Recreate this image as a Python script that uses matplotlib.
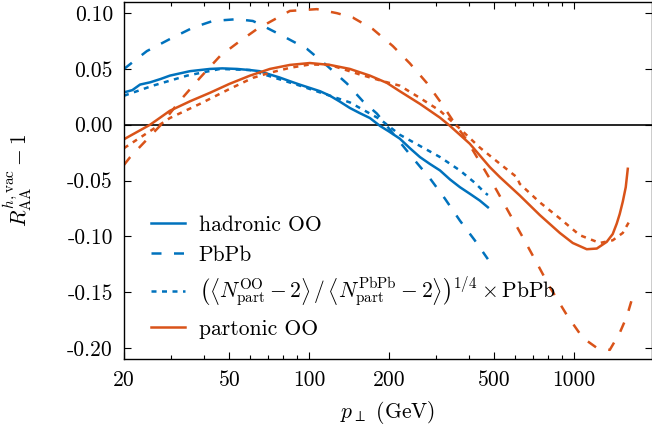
import matplotlib
matplotlib.use("Agg")
import matplotlib.pyplot as plt
from matplotlib.ticker import FixedLocator, FixedFormatter, NullFormatter

# hadronic OO (solid blue)
had_oo_pt = [20, 21.5, 23, 25.1, 27.5, 29.8, 32.5, 35.5, 38.7, 42.2, 47, 53.4, 59.8,
             65, 71.1, 77, 84.6, 92, 100.6, 110, 119.8, 130, 142.5, 155, 169.6, 185,
             200, 220, 240, 262, 285, 312, 340, 371, 405, 441, 473]
had_oo_val = [0.029, 0.031, 0.036, 0.038, 0.041, 0.044, 0.046, 0.048, 0.049, 0.050,
              0.0505, 0.050, 0.049, 0.048, 0.045, 0.0425, 0.039, 0.036, 0.033, 0.030,
              0.026, 0.021, 0.015, 0.0105, 0.006, -0.001, -0.006, -0.0125, -0.021,
              -0.029, -0.035, -0.041, -0.049, -0.056, -0.062, -0.068, -0.074]

# hadronic PbPb (dashed blue)
had_pb_pt = [20, 24.4, 29.8, 36.4, 43.3, 53.4, 61.3, 65.2, 79.6, 98.1, 116.7, 138.8,
             159.6, 180.2, 246.5, 285.6, 325, 371, 422, 473]
had_pb_val = [0.050, 0.066, 0.0768, 0.087, 0.093, 0.0946, 0.093, 0.090, 0.0795, 0.068,
              0.053, 0.037, 0.021, 0.010, -0.030, -0.048, -0.066, -0.086, -0.1036,
              -0.1205]

# scaled PbPb (dotted blue)
had_sc_pt = [20, 25.7, 34.6, 46.1, 59.8, 92.3, 142.5, 185, 220, 262, 312, 371, 422,
             461, 473]
had_sc_val = [0.026, 0.035, 0.044, 0.050, 0.049, 0.035, 0.020, 0.005, -0.009, -0.019,
              -0.029, -0.041, -0.052, -0.061, -0.063]

# partonic OO (solid orange)
par_oo_pt = [20, 25.1, 29.8, 35.5, 42.2, 50, 59.8, 71.1, 84.6, 100.6, 119.8, 142.5,
             169.6, 196.6, 220, 262, 312, 340, 404, 481, 525, 624, 743, 884, 989,
             1117, 1219, 1329, 1400, 1450, 1488, 1528, 1568, 1596]
par_oo_val = [-0.013, 0.0, 0.0125, 0.021, 0.0286, 0.0366, 0.044, 0.050, 0.0536,
              0.0553, 0.0536, 0.050, 0.044, 0.0375, 0.030, 0.0187, 0.0063, -0.001,
              -0.017, -0.038, -0.047, -0.0634, -0.081, -0.097, -0.106, -0.1116,
              -0.111, -0.105, -0.098, -0.0886, -0.080, -0.069, -0.056, -0.0395]

# partonic PbPb (dashed orange)
par_pb_pt = [20, 21.1, 27.6, 32.5, 38.7, 46.1, 53.4, 63.5, 84.6, 107, 127.3, 146.3,
             174, 207, 240, 278, 317, 349, 394, 453, 511, 572, 641, 724, 810, 939,
             1079, 1219, 1365, 1488, 1582, 1652]
par_pb_val = [-0.036, -0.029, 0.0, 0.0214, 0.042, 0.0616, 0.073, 0.0857, 0.102,
              0.1036, 0.100, 0.096, 0.0857, 0.0705, 0.055, 0.0375, 0.0187, 0.0036,
              -0.014, -0.038, -0.059, -0.080, -0.101, -0.124, -0.1455, -0.1705,
              -0.191, -0.200, -0.2018, -0.1866, -0.172, -0.157]

# scaled partonic PbPb (dotted orange)
par_sc_pt = [20, 27.3, 29.8, 38.7, 50, 61.3, 71.1, 84.6, 100.6, 119.8, 155.5, 190,
             220, 262, 312, 371, 441, 525, 608, 624, 743, 884, 1051, 1251, 1400,
             1528, 1610]
par_sc_val = [-0.021, 0.0, 0.006, 0.0187, 0.032, 0.042, 0.0466, 0.051, 0.054, 0.0536,
              0.045, 0.039, 0.035, 0.024, 0.0125, -0.0036, -0.0205, -0.035, -0.047,
              -0.053, -0.0696, -0.084, -0.099, -0.106, -0.1036, -0.097, -0.0875]

x_ticks = [20, 50, 100, 200, 500, 1000]
x_tick_labels = ["20", "50", "100", "200", "500", "1000"]
y_ticks = [-0.20, -0.15, -0.10, -0.05, 0.00, 0.05, 0.10]
y_tick_labels = ["-0.20", "-0.15", "-0.10", "-0.05", "0.00", "0.05", "0.10"]

BLUE = "#0072BD"
ORANGE = "#D95319"

plt.rcParams["font.family"] = "serif"
plt.rcParams["font.serif"] = ["cmr10", "DejaVu Serif"]
plt.rcParams["mathtext.fontset"] = "cm"
plt.rcParams["axes.unicode_minus"] = False
plt.rcParams["font.size"] = 15.5

fig = plt.figure(figsize=(6.52, 4.34), dpi=100)
ax = fig.add_axes([124 / 652, 1 - 359 / 434, 528 / 652, 357 / 434])

lw = 1.8
dashed = (0, (4, 5))
dotted = (0, (2, 2.2))

ax.axhline(0, color="black", lw=1.2, zorder=1)

ax.plot(had_oo_pt, had_oo_val, color=BLUE, lw=lw, label="hadronic OO")
ax.plot(had_pb_pt, had_pb_val, color=BLUE, lw=lw, ls=dashed, label="PbPb")
ax.plot(had_sc_pt, had_sc_val, color=BLUE, lw=lw, ls=dotted,
        label=r"$\left(\left\langle N_{\rm part}^{\rm OO}-2\right\rangle\,/\,"
              r"\left\langle N_{\rm part}^{\rm PbPb}-2\right\rangle\right)^{1/4}"
              r"\times{\rm PbPb}$")
ax.plot(par_oo_pt, par_oo_val, color=ORANGE, lw=lw, label="partonic OO")
ax.plot(par_pb_pt, par_pb_val, color=ORANGE, lw=lw, ls=dashed)
ax.plot(par_sc_pt, par_sc_val, color=ORANGE, lw=lw, ls=dotted)

ax.set_xscale("log")
ax.set_xlim(20, 1970)
ax.set_ylim(-0.21, 0.11)

ax.xaxis.set_major_locator(FixedLocator(x_ticks))
ax.xaxis.set_major_formatter(FixedFormatter(x_tick_labels))
ax.xaxis.set_minor_locator(FixedLocator([30, 40, 60, 70, 80, 90, 300, 400, 600,
                                         700, 800, 900]))
ax.xaxis.set_minor_formatter(NullFormatter())
ax.yaxis.set_major_locator(FixedLocator(y_ticks))
ax.yaxis.set_major_formatter(FixedFormatter(y_tick_labels))

ax.tick_params(which="both", direction="in", top=True, right=True, width=0.8)
ax.tick_params(which="major", length=5, pad=8)
ax.tick_params(which="minor", length=3)
for sp in ax.spines.values():
    sp.set_linewidth(1.0)

ax.set_xlabel(r"$p_\perp$ (GeV)", labelpad=7)
ax.set_ylabel(r"$R_{\rm AA}^{h,\rm vac}-1$", labelpad=24)

ax.legend(loc="lower left", bbox_to_anchor=(0.019, 0.008), frameon=False,
          handlelength=1.55, handletextpad=0.65, labelspacing=0.5,
          borderaxespad=0.0, borderpad=0.8)

fig.savefig("out.png", dpi=100)
